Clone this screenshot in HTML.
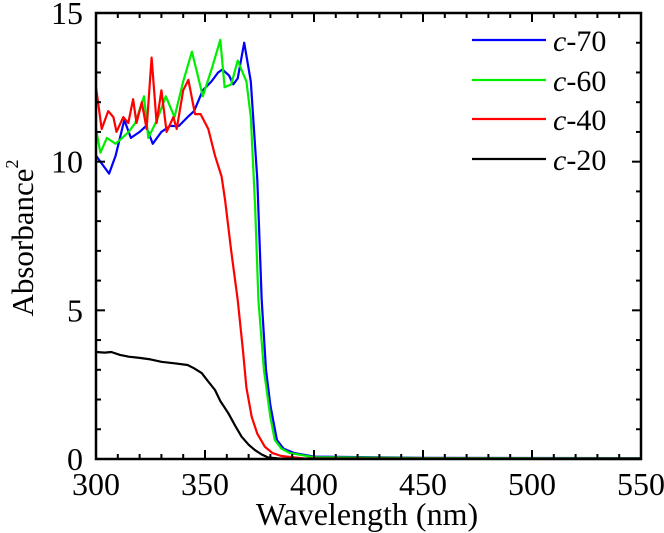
<!DOCTYPE html>
<html><head><meta charset="utf-8"><style>
html,body{margin:0;padding:0;background:#fff;}
svg{display:block;font-family:"Liberation Serif",serif;}
</style></head><body>
<svg id="chart" width="664" height="533" viewBox="0 0 664 533" xmlns="http://www.w3.org/2000/svg">
<g id="series"></g>
<g id="axes"></g>
<text x="367" y="525" font-size="32" text-anchor="middle">Wavelength (nm)</text>
<text transform="translate(33,238) rotate(-90)" font-size="31" text-anchor="middle">Absorbance<tspan font-size="18" dy="-15">2</tspan></text>
<g id="legend"></g>
</svg>
<script>
const xTicks = [300,350,400,450,500,550];
const yTicks = [0,5,10,15];
const seriesNames = ["c-70","c-60","c-40","c-20"];
const seriesColors = ["#0000ff","#00ee00","#ff0000","#000000"];
const c70X = [300,303,306,309,313,316,320,323,326,330,334,338,342,345,349,353,356,358,361,363,365,368,371,374,376,378,380,383,386,391,400,450,550];
const c70Y = [10.2,9.9,9.6,10.2,11.4,10.8,11.0,11.2,10.6,11.0,11.2,11.2,11.5,11.7,12.4,12.7,13.0,13.1,12.9,12.6,12.8,14.0,12.7,9.4,5.35,3.0,1.8,0.64,0.35,0.2,0.08,0.04,0.03];
const c60X = [300,302,305,309,312,315,318,322,324,328,332,336,340,344,346,349,353,357,359,362,365,369,371,373,374.5,377,380,382,385,389,400,450,550];
const c60Y = [11.1,10.3,10.8,10.6,10.8,11.0,11.3,12.2,10.8,11.4,12.2,11.5,12.7,13.7,13.1,12.2,13.1,14.1,12.5,12.6,13.4,12.7,11.5,8.5,5.35,3.0,1.4,0.64,0.35,0.2,0.06,0.03,0.02];
const c40X = [300,302.6,305.6,308,309.4,312.5,314.8,317,318.6,321,323.2,325.5,327.8,330,332.4,335.5,337,340,342.4,345.4,348,351.5,354.6,357.6,359.2,362,365,367.4,369,371.4,374,377.5,381,385,395,550];
const c40Y = [12.5,11.1,11.7,11.5,11.0,11.5,11.3,12.1,11.3,12.0,11.1,13.5,11.3,12.4,11.0,11.5,11.1,12.4,12.75,11.6,11.6,11.1,10.2,9.5,8.7,7.0,5.35,3.67,2.4,1.42,0.85,0.41,0.2,0.1,0.02,0.01];
const c20X = [300,304,307,311,315,320,325,330,336,342,345,348.5,351,354.6,357,360.7,364,366.8,370,372.9,376,379,385,550];
const c20Y = [3.6,3.58,3.6,3.5,3.44,3.4,3.35,3.27,3.22,3.16,3.05,2.89,2.65,2.32,1.95,1.54,1.1,0.75,0.48,0.3,0.15,0.05,0.01,0.0];
const seriesX = [c70X,c60X,c40X,c20X];
const seriesY = [c70Y,c60Y,c40Y,c20Y];

const L=96,R=641,T=13,B=459;
const X0=300,X1=550,Y0=0,Y1=15;
function sx(v){return L+(v-X0)/(X1-X0)*(R-L);}
function sy(v){return B-(v-Y0)/(Y1-Y0)*(B-T);}
const NS="http://www.w3.org/2000/svg";
function mk(tag,attrs,parent){const e=document.createElementNS(NS,tag);for(const k in attrs)e.setAttribute(k,attrs[k]);parent.appendChild(e);return e;}

const sg=document.getElementById('series');
for(let s=0;s<seriesX.length;s++){
  let d="";
  for(let i=0;i<seriesX[s].length;i++){d+=(i?"L":"M")+sx(seriesX[s][i]).toFixed(1)+","+sy(seriesY[s][i]).toFixed(1);}
  const p=mk('path',{d:d,fill:'none',stroke:seriesColors[s],'stroke-width':2.2,'stroke-linejoin':'round'},sg);
  
  
}

const ag=document.getElementById('axes');
const frame=mk('rect',{x:L,y:T,width:R-L,height:B-T,fill:'none',stroke:'#000','stroke-width':2.5},ag);


for(let v=X0;v<=X1;v+=10){
  const major=(v%50===0), len=major?9:5, x=sx(v);
  const t1=mk('line',{x1:x,y1:B,x2:x,y2:B-len,stroke:'#000','stroke-width':2},ag);
  
  
  const t2=mk('line',{x1:x,y1:T,x2:x,y2:T+len,stroke:'#000','stroke-width':2},ag);
  
  
}
for(let v=Y0;v<=Y1;v+=1){
  const major=(v%5===0), len=major?9:5, y=sy(v);
  const t1=mk('line',{x1:L,y1:y,x2:L+len,y2:y,stroke:'#000','stroke-width':2},ag);
  
  
  const t2=mk('line',{x1:R,y1:y,x2:R-len,y2:y,stroke:'#000','stroke-width':2},ag);
  
  
}
xTicks.forEach(v=>{
  const t=mk('text',{x:sx(v),y:495,'font-size':32,'text-anchor':'middle'},ag);
  t.textContent=v;
  
  
});
yTicks.forEach(v=>{
  const t=mk('text',{x:83,y:sy(v)+11,'font-size':32,'text-anchor':'end'},ag);
  t.textContent=v;
  
  
});

const lg=document.getElementById('legend');
const ly=[40,80,119,159];
for(let s=0;s<seriesNames.length;s++){
  const g=mk('g',{},lg);
  
  
  mk('line',{x1:472,y1:ly[s],x2:546,y2:ly[s],stroke:seriesColors[s],'stroke-width':2.2},g);
  const t=mk('text',{x:553,y:ly[s]+11,'font-size':30},g);
  const parts=seriesNames[s].split('-');
  const it=mk('tspan',{'font-style':'italic'},t); it.textContent=parts[0];
  const rest=mk('tspan',{},t); rest.textContent='-'+parts[1];
}
</script>
</body></html>
